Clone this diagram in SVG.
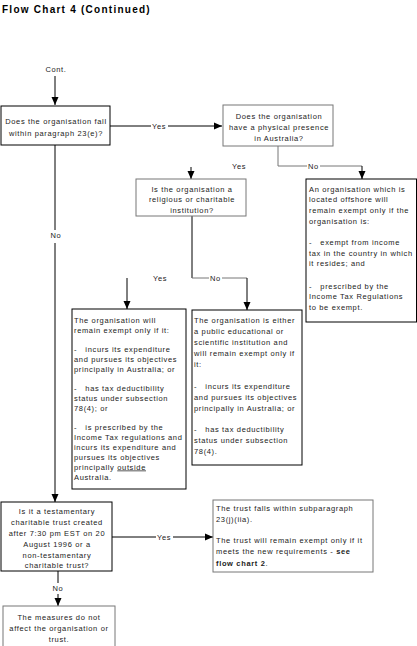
<svg xmlns="http://www.w3.org/2000/svg" width="417" height="646" viewBox="0 0 417 646">
<defs>
<marker id="ah" markerUnits="userSpaceOnUse" markerWidth="8" markerHeight="8" viewBox="0 0 8 8" refX="8" refY="4" orient="auto">
<path d="M0,0.5 L8,4 L0,7.5 Z" fill="#000"/>
</marker>
<style>
text{font-family:"Liberation Sans",Arial,sans-serif;font-size:7.5px;letter-spacing:0.65px;fill:#222}
.t{font-size:10px;font-weight:bold;letter-spacing:1.25px;fill:#000}
.c{text-anchor:middle}
.b{fill:#fff;stroke:#000;stroke-width:1}
.g{stroke:#777}
.k{font-weight:bold}
line,polyline{fill:none;stroke:#000;stroke-width:1}
.gl{stroke:#777}
</style>
</defs>
<rect width="417" height="646" fill="#fff"/>
<text class="t" x="2" y="13">Flow Chart 4 (Continued)</text>

<g id="connectors">
<text class="c" x="56" y="72">Cont.</text>
<line x1="55" y1="76" x2="55" y2="105" marker-end="url(#ah)"/>
<line x1="110" y1="126" x2="151" y2="126"/>
<text x="152" y="129">Yes</text>
<line x1="168" y1="126" x2="222" y2="126" marker-end="url(#ah)"/>
<polyline class="gl" points="278,146 278,166 307,166"/>
<text x="308" y="169">No</text>
<line class="gl" x1="320" y1="166" x2="362" y2="166"/>
<line x1="362" y1="166" x2="362" y2="179" marker-end="url(#ah)"/>
<text x="232" y="169">Yes</text>
<line x1="191" y1="167" x2="191" y2="179" marker-end="url(#ah)"/>
<line x1="192" y1="216" x2="192" y2="278"/>
<line class="gl" x1="192" y1="278" x2="209" y2="278"/>
<text x="210" y="281">No</text>
<line class="gl" x1="222" y1="278" x2="247" y2="278"/>
<line x1="247" y1="278" x2="247" y2="310" marker-end="url(#ah)"/>
<text x="153" y="281">Yes</text>
<line x1="127" y1="278" x2="127" y2="309" marker-end="url(#ah)"/>
<line x1="55" y1="145" x2="55" y2="230"/>
<text class="c" x="56" y="238">No</text>
<line x1="55" y1="243" x2="55" y2="502" marker-end="url(#ah)"/>
<line x1="112" y1="537" x2="156" y2="537"/>
<text x="157" y="540">Yes</text>
<line x1="173" y1="537" x2="213" y2="537" marker-end="url(#ah)"/>
<line x1="58" y1="571" x2="58" y2="583"/>
<text class="c" x="58" y="591">No</text>
<line x1="58" y1="594" x2="58" y2="606" marker-end="url(#ah)"/>
</g>

<g id="n1">
<rect class="b" x="1" y="106" width="109" height="39"/>
<text class="c" x="56" y="123.5">Does the organisation fall</text>
<text class="c" x="56" y="135.5">within paragraph 23(e)?</text>
</g>
<g id="n2">
<rect class="b g" x="223" y="105" width="110" height="41"/>
<text class="c" x="279" y="118.5">Does the organisation</text>
<text class="c" x="279" y="129.5">have a physical presence</text>
<text class="c" x="279" y="140.5">in Australia?</text>
</g>
<g id="n3">
<rect class="b g" x="136" y="179" width="110" height="37"/>
<text class="c" x="192" y="191.5">Is the organisation a</text>
<text class="c" x="192" y="202">religious or charitable</text>
<text class="c" x="192" y="212.5">institution?</text>
</g>
<g id="n4">
<rect class="b" x="306" y="179" width="110.5" height="143"/>
<text x="309" y="191.5">An organisation which is</text>
<text x="309" y="202">located offshore will</text>
<text x="309" y="213">remain exempt only if the</text>
<text x="309" y="224">organisation is:</text>
<text x="309" y="245">-&#160;&#160;&#160;exempt from income</text>
<text x="309" y="255.5">tax in the country in which</text>
<text x="309" y="266">it resides; and</text>
<text x="309" y="288.5">-&#160;&#160;&#160;prescribed by the</text>
<text x="309" y="299">Income Tax Regulations</text>
<text x="309" y="310">to be exempt.</text>
</g>
<g id="n5">
<rect class="b" x="72" y="309" width="114" height="180"/>
<text x="74" y="322.5">The organisation will</text>
<text x="74" y="332.5">remain exempt only if it:</text>
<text x="74" y="351.5">-&#160;&#160;&#160;incurs its expenditure</text>
<text x="74" y="361.5">and pursues its objectives</text>
<text x="74" y="371.5">principally in Australia; or</text>
<text x="74" y="390.5">-&#160;&#160;&#160;has tax deductibility</text>
<text x="74" y="400.5">status under subsection</text>
<text x="74" y="410.5">78(4); or</text>
<text x="74" y="429.5">-&#160;&#160;&#160;is prescribed by the</text>
<text x="74" y="439.5">Income Tax regulations and</text>
<text x="74" y="449.5">incurs its expenditure and</text>
<text x="74" y="459.5">pursues its objectives</text>
<text x="74" y="469.5">principally <tspan text-decoration="underline">outside</tspan></text>
<text x="74" y="479.5">Australia.</text>
</g>
<g id="n6">
<rect class="b" x="192" y="310" width="110" height="155"/>
<text x="194" y="322.5">The organisation is either</text>
<text x="194" y="333.5">a public educational or</text>
<text x="194" y="344.5">scientific institution and</text>
<text x="194" y="355.5">will remain exempt only if</text>
<text x="194" y="366.5">it:</text>
<text x="194" y="388.5">-&#160;&#160;&#160;incurs its expenditure</text>
<text x="194" y="399.5">and pursues its objectives</text>
<text x="194" y="410.5">principally in Australia; or</text>
<text x="194" y="431.5">-&#160;&#160;&#160;has tax deductibility</text>
<text x="194" y="442.5">status under subsection</text>
<text x="194" y="453.5">78(4).</text>
</g>
<g id="n7">
<rect class="b" x="1" y="502" width="111" height="69"/>
<text class="c" x="57" y="513.5">Is it a testamentary</text>
<text class="c" x="57" y="524.5">charitable trust created</text>
<text class="c" x="57" y="535.5">after 7:30 pm EST on 20</text>
<text class="c" x="57" y="546.5">August 1996 or a</text>
<text class="c" x="57" y="557.5">non-testamentary</text>
<text class="c" x="57" y="568">charitable trust?</text>
</g>
<g id="n8">
<rect class="b g" x="213" y="500" width="160" height="72"/>
<text x="216" y="511">The trust falls within subparagraph</text>
<text x="216" y="522">23(j)(iia).</text>
<text x="216" y="543">The trust will remain exempt only if it</text>
<text x="216" y="554">meets the new requirements - <tspan class="k">see</tspan></text>
<text x="216" y="565.5"><tspan class="k">flow chart 2</tspan>.</text>
</g>
<g id="n9">
<rect class="b g" x="3" y="606" width="112" height="46"/>
<text class="c" x="59" y="619.5">The measures do not</text>
<text class="c" x="59" y="630.5">affect the organisation or</text>
<text class="c" x="59" y="642">trust.</text>
</g>
</svg>
